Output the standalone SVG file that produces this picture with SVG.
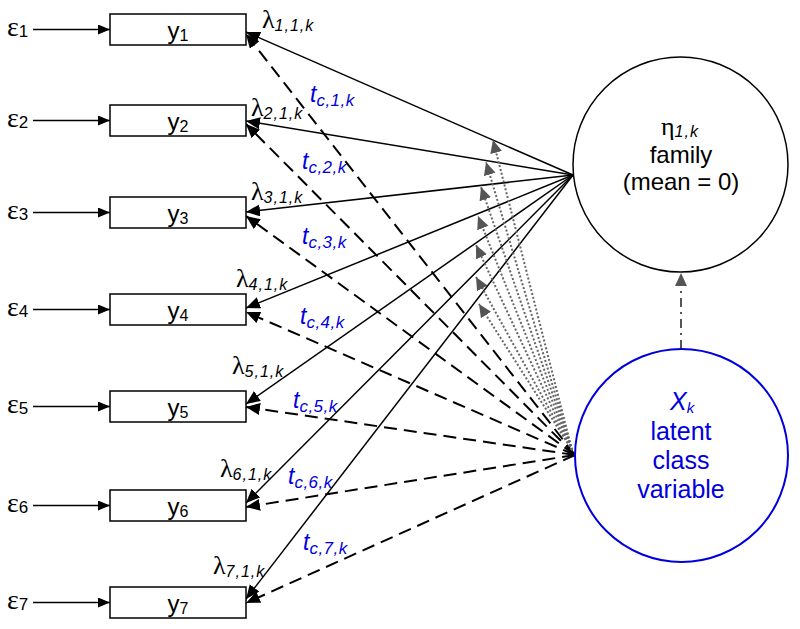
<svg xmlns="http://www.w3.org/2000/svg" width="800" height="629" viewBox="0 0 800 629">
<style>
.box{fill:#fff;stroke:#000;stroke-width:1.5}
.lbl{font-family:"Liberation Sans",Arial,sans-serif;font-size:24px;fill:#000}
.sub{font-size:16px}
.gk{font-family:"Liberation Serif","Times New Roman",serif;font-size:26px;fill:#000}
.eps{font-family:"Liberation Serif","Times New Roman",serif;font-size:28px;fill:#000}
.esub{font-family:"Liberation Sans",Arial,sans-serif;font-size:17px}
.isub{font-family:"Liberation Sans",Arial,sans-serif;font-style:italic;font-size:16px;letter-spacing:1px}
.tl{font-family:"Liberation Sans",Arial,sans-serif;font-style:italic;font-size:23px;fill:#0000dd}
.tsub{font-size:17px;letter-spacing:0.5px}
.solid{fill:none;stroke:#000;stroke-width:1.5}
.dash{fill:none;stroke:#000;stroke-width:2;stroke-dasharray:13,7}
.dot{fill:none;stroke:#666;stroke-width:2;stroke-dasharray:2,2}
.dd{fill:none;stroke:#555;stroke-width:2;stroke-dasharray:9,5,2,5}
.ct{font-family:"Liberation Sans",Arial,sans-serif;font-size:24px;fill:#000}
.bt{font-family:"Liberation Sans",Arial,sans-serif;font-size:25px;fill:#0000dd}
</style>
<defs>
<marker id="ah" markerUnits="userSpaceOnUse" markerWidth="16" markerHeight="14" refX="14" refY="6" orient="auto"><path d="M0,0 L14,6 L0,12 z" fill="#000"/></marker>
<marker id="ahs" markerUnits="userSpaceOnUse" markerWidth="14" markerHeight="12" refX="12" refY="5" orient="auto"><path d="M0,0 L12,5 L0,10 z" fill="#000"/></marker>
<marker id="ahg" markerUnits="userSpaceOnUse" markerWidth="16" markerHeight="14" refX="13" refY="6" orient="auto"><path d="M0,0 L13,6 L0,12 z" fill="#555"/></marker>
</defs>
<rect width="800" height="629" fill="#fff"/>

<g id="connectors">
<path class="solid" marker-end="url(#ahs)" d="M33,29.5 L110,29.5"/>
<path class="solid" marker-end="url(#ahs)" d="M33,120.5 L110,120.5"/>
<path class="solid" marker-end="url(#ahs)" d="M33,212.5 L110,212.5"/>
<path class="solid" marker-end="url(#ahs)" d="M33,309.5 L110,309.5"/>
<path class="solid" marker-end="url(#ahs)" d="M33,406.5 L110,406.5"/>
<path class="solid" marker-end="url(#ahs)" d="M33,505.5 L110,505.5"/>
<path class="solid" marker-end="url(#ahs)" d="M33,602.5 L110,602.5"/>
<path class="solid" marker-end="url(#ah)" d="M573,175 L246,32"/>
<path class="solid" marker-end="url(#ah)" d="M573,175 L246,121"/>
<path class="solid" marker-end="url(#ah)" d="M573,175 L246,212"/>
<path class="solid" marker-end="url(#ah)" d="M573,175 L246,308"/>
<path class="solid" marker-end="url(#ah)" d="M573,175 L246,404"/>
<path class="solid" marker-end="url(#ah)" d="M573,175 L246,503"/>
<path class="solid" marker-end="url(#ah)" d="M573,175 L246,599"/>
<path class="dash" marker-end="url(#ah)" d="M575,455 L246,34"/>
<path class="dash" marker-end="url(#ah)" d="M575,455 L246,124"/>
<path class="dash" marker-end="url(#ah)" d="M575,455 L246,216"/>
<path class="dash" marker-end="url(#ah)" d="M575,455 L246,312"/>
<path class="dash" marker-end="url(#ah)" d="M575,455 L246,407"/>
<path class="dash" marker-end="url(#ah)" d="M575,455 L246,507"/>
<path class="dash" marker-end="url(#ah)" d="M575,455 L246,603"/>
<path class="dot" marker-end="url(#ahg)" d="M572,450 L493,140"/>
<path class="dot" marker-end="url(#ahg)" d="M572,450 L486,162"/>
<path class="dot" marker-end="url(#ahg)" d="M572,450 L481,187"/>
<path class="dot" marker-end="url(#ahg)" d="M572,450 L478,216"/>
<path class="dot" marker-end="url(#ahg)" d="M572,450 L476,245"/>
<path class="dot" marker-end="url(#ahg)" d="M572,450 L476,277"/>
<path class="dot" marker-end="url(#ahg)" d="M572,450 L479,304"/>
<path class="dd" marker-end="url(#ahg)" d="M681,349 L681,273"/>
</g>

<g id="y1"><rect class="box" x="110" y="14" width="136" height="31"/><text class="lbl" x="178" y="39" text-anchor="middle">y<tspan class="sub" dy="2">1</tspan></text></g>
<g id="y2"><rect class="box" x="110" y="105" width="136" height="31"/><text class="lbl" x="178" y="130" text-anchor="middle">y<tspan class="sub" dy="2">2</tspan></text></g>
<g id="y3"><rect class="box" x="110" y="197" width="136" height="31"/><text class="lbl" x="178" y="222" text-anchor="middle">y<tspan class="sub" dy="2">3</tspan></text></g>
<g id="y4"><rect class="box" x="110" y="294" width="136" height="31"/><text class="lbl" x="178" y="319" text-anchor="middle">y<tspan class="sub" dy="2">4</tspan></text></g>
<g id="y5"><rect class="box" x="110" y="391" width="136" height="31"/><text class="lbl" x="178" y="416" text-anchor="middle">y<tspan class="sub" dy="2">5</tspan></text></g>
<g id="y6"><rect class="box" x="110" y="490" width="136" height="31"/><text class="lbl" x="178" y="515" text-anchor="middle">y<tspan class="sub" dy="2">6</tspan></text></g>
<g id="y7"><rect class="box" x="110" y="587" width="136" height="31"/><text class="lbl" x="178" y="612" text-anchor="middle">y<tspan class="sub" dy="2">7</tspan></text></g>

<g id="e1"><text class="eps" x="7" y="36">ε<tspan class="esub" dy="1">1</tspan></text></g>
<g id="e2"><text class="eps" x="7" y="127">ε<tspan class="esub" dy="1">2</tspan></text></g>
<g id="e3"><text class="eps" x="7" y="219">ε<tspan class="esub" dy="1">3</tspan></text></g>
<g id="e4"><text class="eps" x="7" y="316">ε<tspan class="esub" dy="1">4</tspan></text></g>
<g id="e5"><text class="eps" x="7" y="413">ε<tspan class="esub" dy="1">5</tspan></text></g>
<g id="e6"><text class="eps" x="7" y="512">ε<tspan class="esub" dy="1">6</tspan></text></g>
<g id="e7"><text class="eps" x="7" y="609">ε<tspan class="esub" dy="1">7</tspan></text></g>

<g id="lambdas">
<text class="gk" x="262" y="28">λ<tspan class="isub" dy="3">1,1,k</tspan></text>
<text class="gk" x="251" y="116">λ<tspan class="isub" dy="3">2,1,k</tspan></text>
<text class="gk" x="251" y="200">λ<tspan class="isub" dy="3">3,1,k</tspan></text>
<text class="gk" x="236" y="287">λ<tspan class="isub" dy="3">4,1,k</tspan></text>
<text class="gk" x="232" y="374">λ<tspan class="isub" dy="3">5,1,k</tspan></text>
<text class="gk" x="220" y="477">λ<tspan class="isub" dy="3">6,1,k</tspan></text>
<text class="gk" x="213" y="574">λ<tspan class="isub" dy="3">7,1,k</tspan></text>
</g>

<g id="thresholds">
<text class="tl" x="310" y="102">t<tspan class="tsub" dy="4">c,1,k</tspan></text>
<text class="tl" x="302" y="169">t<tspan class="tsub" dy="4">c,2,k</tspan></text>
<text class="tl" x="302" y="244">t<tspan class="tsub" dy="4">c,3,k</tspan></text>
<text class="tl" x="300" y="324">t<tspan class="tsub" dy="4">c,4,k</tspan></text>
<text class="tl" x="293" y="408">t<tspan class="tsub" dy="4">c,5,k</tspan></text>
<text class="tl" x="288" y="484">t<tspan class="tsub" dy="4">c,6,k</tspan></text>
<text class="tl" x="303" y="550">t<tspan class="tsub" dy="4">c,7,k</tspan></text>
</g>

<g id="eta">
<circle cx="680.5" cy="164.5" r="107.5" fill="none" stroke="#000" stroke-width="1.5"/>
<text class="gk" x="661" y="135" font-size="30">η<tspan class="isub" font-size="16" dy="2" letter-spacing="0">1,k</tspan></text>
<text class="ct" x="681" y="163" text-anchor="middle">family</text>
<text class="ct" x="681" y="190" text-anchor="middle">(mean = 0)</text>
</g>

<g id="xk">
<circle cx="681.5" cy="455.5" r="106.5" fill="none" stroke="#0000dd" stroke-width="2"/>
<text class="bt" x="670" y="410" font-style="italic">X<tspan font-size="15" dy="3">k</tspan></text>
<text class="bt" x="681" y="440" text-anchor="middle">latent</text>
<text class="bt" x="681" y="469" text-anchor="middle">class</text>
<text class="bt" x="681" y="498" text-anchor="middle">variable</text>
</g>
</svg>
